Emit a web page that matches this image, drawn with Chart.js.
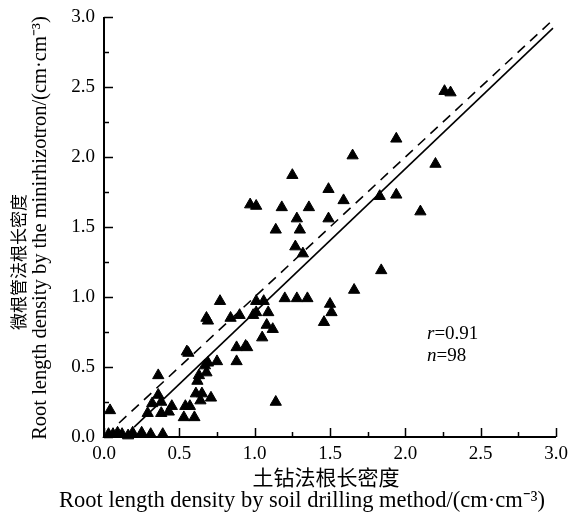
<!DOCTYPE html>
<html>
<head>
<meta charset="utf-8">
<script src="https://cdn.jsdelivr.net/npm/chart.js@4/dist/chart.umd.min.js"></script>
<style>
  html, body { margin: 0; padding: 0; background: #fff; }
  #wrap { width: 570px; height: 512px; }
</style>
</head>
<body>
<div id="wrap"><canvas id="c" width="570" height="512"></canvas></div>
<script>
// soil drilling RLD (x) vs minirhizotron RLD (y)
const soilX = [
  2.26, 2.30, 1.94, 1.65, 2.20, 1.25, 1.49, 1.83, 1.94, 1.59,
  2.10, 0.97, 1.01, 1.18, 1.36, 1.28, 1.49, 1.14, 1.30, 1.27,
  1.32, 1.84, 1.66, 1.20, 1.28, 1.35, 1.50, 1.51, 1.46, 1.06,
  1.01, 0.77, 1.09, 1.08, 1.12, 1.05, 0.99, 1.01, 0.90, 0.84,
  0.68, 0.69, 0.88, 0.94, 0.95, 0.88, 0.75, 0.69, 0.67, 0.63,
  0.68, 0.62, 0.55, 0.56, 0.61, 0.65, 0.71, 0.64, 0.54, 0.57,
  0.53, 0.60, 1.14, 0.36, 0.36, 0.32, 0.38, 0.45, 0.43, 0.38,
  0.29, 0.04, 0.03, 0.06, 0.09, 0.12, 0.16, 0.19, 0.25, 0.31,
  0.39
];
const tubeY = [
  2.47, 2.46, 2.13, 2.01, 1.95, 1.87, 1.77, 1.72, 1.73, 1.69,
  1.61, 1.66, 1.65, 1.64, 1.64, 1.56, 1.56, 1.48, 1.48, 1.36,
  1.31, 1.19, 1.05, 0.99, 0.99, 0.99, 0.95, 0.89, 0.82, 0.97,
  0.97, 0.97, 0.89, 0.80, 0.77, 0.71, 0.87, 0.89, 0.87, 0.85,
  0.85, 0.83, 0.64, 0.65, 0.64, 0.54, 0.54, 0.53, 0.51, 0.44,
  0.46, 0.40, 0.61, 0.60, 0.31, 0.31, 0.28, 0.26, 0.22, 0.22,
  0.14, 0.14, 0.25, 0.44, 0.30, 0.24, 0.25, 0.22, 0.18, 0.17,
  0.17, 0.19, 0.02, 0.02, 0.03, 0.02, 0.01, 0.03, 0.03, 0.02,
  0.02
];

// regression line (solid) and 1:1 line (dashed), endpoints
const fitX = [0.20, 2.98];
const fitY = [0.07, 2.92];
const oneX = [0.10, 2.97];
const oneY = [0.10, 2.97];

const axisMin = 0, axisMax = 3;
const majorStep = 0.5, minorStep = 0.25;
const statR = '0.91';
const statN = '98';

const xTitleCn = '土钻法根长密度';
const xTitleEn = 'Root length density by soil drilling method/(cm·cm⁻³)';
const yTitleCn = '微根管法根长密度';
const yTitleEn = 'Root length density by the minirhizotron/(cm·cm⁻³)';

const serif = "'Liberation Serif', 'Times New Roman', serif";
const cjk = "'Noto Sans CJK SC', sans-serif";

const pts = soilX.map((x, i) => ({ x, y: tubeY[i] }));
const toXY = (xs, ys) => xs.map((x, i) => ({ x, y: ys[i] }));

// axes drawn inward like the original (left + bottom only), plus titles
const inwardAxes = {
  id: 'inwardAxes',
  afterDraw(chart) {
    const { ctx, chartArea: a, scales: { x, y } } = chart;
    ctx.save();
    ctx.strokeStyle = '#000';
    ctx.lineWidth = 2;
    ctx.beginPath();
    ctx.moveTo(a.left, a.top);
    ctx.lineTo(a.left, a.bottom);
    ctx.lineTo(a.right, a.bottom);
    ctx.stroke();

    ctx.lineWidth = 1.5;
    ctx.beginPath();
    for (let v = axisMin; v <= axisMax + 1e-9; v += minorStep) {
      const major = Math.abs(v / majorStep - Math.round(v / majorStep)) < 1e-6;
      const len = major ? 9 : 5;
      const px = Math.round(x.getPixelForValue(v)) + 0.5;
      ctx.moveTo(px, a.bottom);
      ctx.lineTo(px, a.bottom - len);
      const py = Math.round(y.getPixelForValue(v)) + 0.5;
      ctx.moveTo(a.left, py);
      ctx.lineTo(a.left + len, py);
    }
    ctx.stroke();

    ctx.fillStyle = '#000';

    // r / n annotation
    ctx.textAlign = 'left';
    ctx.textBaseline = 'alphabetic';
    const tx = 427;
    ctx.font = "italic 19px 'Liberation Serif', serif";
    ctx.fillText('r', tx, 339);
    let w = ctx.measureText('r').width;
    ctx.font = "19px 'Liberation Serif', serif";
    ctx.fillText('=' + statR, tx + w, 339);
    ctx.font = "italic 19px 'Liberation Serif', serif";
    ctx.fillText('n', tx, 361);
    w = ctx.measureText('n').width;
    ctx.font = "19px 'Liberation Serif', serif";
    ctx.fillText('=' + statN, tx + w, 361);

    // axis titles
    ctx.textAlign = 'center';
    ctx.textBaseline = 'middle';
    ctx.font = '21px ' + cjk;
    ctx.fillText(xTitleCn, 326, 477);
    ctx.font = '22.5px ' + serif;
    ctx.fillText(xTitleEn, 302, 501);

    ctx.save();
    ctx.translate(19, 262);
    ctx.rotate(-Math.PI / 2);
    ctx.font = '17px ' + cjk;
    ctx.fillText(yTitleCn, 0, 0);
    ctx.restore();

    ctx.save();
    ctx.translate(41, 228);
    ctx.rotate(-Math.PI / 2);
    ctx.font = '20.5px ' + serif;
    ctx.fillText(yTitleEn, 0, 0);
    ctx.restore();

    ctx.restore();
  }
};

new Chart(document.getElementById('c'), {
  type: 'scatter',
  data: {
    datasets: [
      {
        label: 'points',
        data: pts,
        pointStyle: 'triangle',
        pointRadius: 6.5,
        backgroundColor: '#000',
        borderColor: '#000',
        borderWidth: 1,
        clip: false,
      },
      {
        label: 'fit',
        type: 'line',
        data: toXY(fitX, fitY),
        borderColor: '#000',
        borderWidth: 1.6,
        pointRadius: 0,
        fill: false,
      },
      {
        label: '1:1',
        type: 'line',
        data: toXY(oneX, oneY),
        borderColor: '#000',
        borderWidth: 1.6,
        borderDash: [10, 7],
        pointRadius: 0,
        fill: false,
      },
    ],
  },
  options: {
    responsive: false,
    animation: false,
    layout: { padding: { top: 17, right: 14, left: 0, bottom: 0 } },
    plugins: {
      legend: { display: false },
      tooltip: { enabled: false },
    },
    scales: {
      x: {
        type: 'linear',
        min: axisMin,
        max: axisMax,
        grid: { display: false },
        border: { display: false },
        ticks: {
          stepSize: majorStep,
          color: '#000',
          padding: -2,
          font: { family: serif, size: 19 },
          callback: v => v.toFixed(1),
        },
        afterFit: s => { s.height = 75; },
      },
      y: {
        type: 'linear',
        min: axisMin,
        max: axisMax,
        grid: { display: false },
        border: { display: false },
        ticks: {
          stepSize: majorStep,
          color: '#000',
          padding: 1,
          font: { family: serif, size: 19 },
          callback: v => v.toFixed(1),
        },
        afterFit: s => { s.width = 104; },
      },
    },
  },
  plugins: [inwardAxes],
});
</script>
</body>
</html>
